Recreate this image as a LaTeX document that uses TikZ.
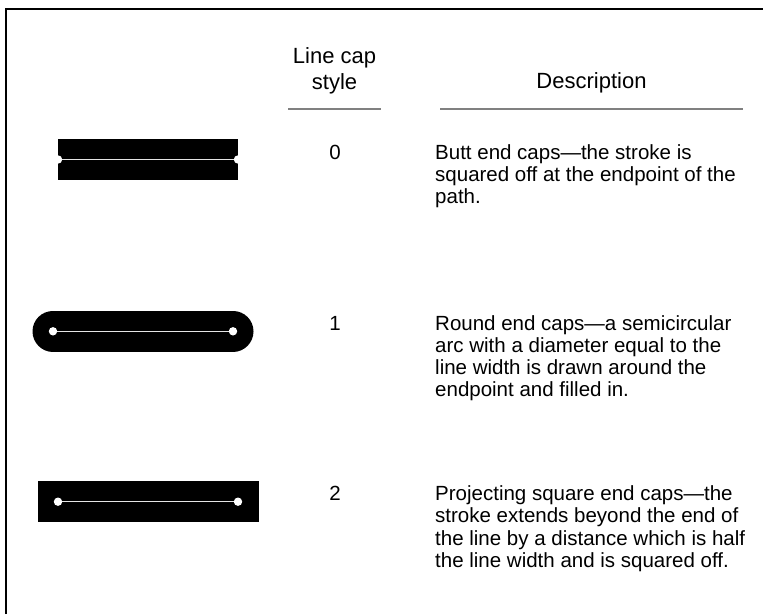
\documentclass[tikz,border=0pt]{standalone}
\usepackage{fontspec}
\setmainfont{Liberation Sans}
\usetikzlibrary{positioning}

\newcommand{\capstrut}[1]{\rule{0pt}{#1}}

\begin{document}
\begin{tikzpicture}[
    x=1pt, y=-1pt,
    headtext/.style={font=\fontsize{22}{26}\selectfont, align=center, inner sep=0pt},
    codetext/.style={font=\fontsize{20.5}{22}\selectfont, inner sep=0pt, anchor=base},
    desctext/.style={font=\fontsize{20.5}{22.2}\selectfont, align=left, inner sep=0pt, anchor=north west},
    headrule/.style={draw=black!50, line width=1.8pt},
    capbar/.style={line width=41pt},
    pathline/.style={draw=white!90!black, line width=1.3pt},
    endpoint/.style={fill=white}
]
    \useasboundingbox (0,0) rectangle (763,614);

    % Frame
    \draw[line width=2.5pt] (6,614) -- (6,9) -- (763,9);

    % Table head
    \node[headtext, anchor=north] (stylehead) at (334.5,46) {\capstrut{17pt}Line cap\\style};
    \node[headtext, anchor=base] (deschead) at (591.5,88) {Description};

    \coordinate (stylerule-l) at (288,109);
    \coordinate (stylerule-r) at (381,109);
    \coordinate (descrule-l) at (440,109);
    \coordinate (descrule-r) at (743,109);
    \draw[headrule] (stylerule-l) -- (stylerule-r);
    \draw[headrule] (descrule-l) -- (descrule-r);

    % Butt cap
    \coordinate (butt-a) at (58,159.5);
    \coordinate (butt-b) at (238,159.5);
    \draw[capbar, line cap=butt] (butt-a) -- (butt-b);
    \draw[pathline] (butt-a) -- (butt-b);
    \fill[endpoint] (butt-a) circle (4.2) (butt-b) circle (4.2);
    \node[codetext] (buttcode) at (335,159) {0};
    \node[desctext] (buttdesc) at (435,143) {\capstrut{16pt}Butt end caps—the stroke is\\
        squared off at the endpoint of the\\path.};

    % Round cap
    \coordinate (round-a) at (53,331.3);
    \coordinate (round-b) at (233,331.3);
    \draw[capbar, line cap=round] (round-a) -- (round-b);
    \draw[pathline] (round-a) -- (round-b);
    \fill[endpoint] (round-a) circle (4.2) (round-b) circle (4.2);
    \node[codetext] (roundcode) at (335,330) {1};
    \node[desctext] (rounddesc) at (435,314) {\capstrut{16pt}Round end caps—a semicircular\\
        arc with a diameter equal to the\\line width is drawn around the\\
        endpoint and filled in.};

    % Projecting square cap
    \coordinate (square-a) at (58,501.7);
    \coordinate (square-b) at (238,501.7);
    \draw[capbar, line cap=rect] (square-a) -- (square-b);
    \draw[pathline] (square-a) -- (square-b);
    \fill[endpoint] (square-a) circle (4.2) (square-b) circle (4.2);
    \node[codetext] (squarecode) at (335,500.5) {2};
    \node[desctext] (squaredesc) at (435,484.5) {\capstrut{16pt}Projecting square end caps—the\\
        stroke extends beyond the end of\\the line by a distance which is half\\
        the line width and is squared off.};
\end{tikzpicture}
\end{document}
